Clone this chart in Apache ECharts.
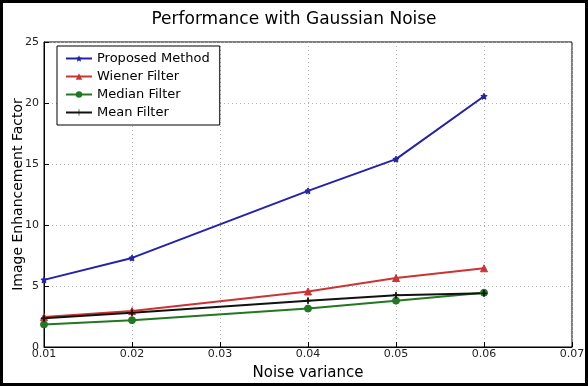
<!DOCTYPE html>
<html>
<head>
<meta charset="utf-8">
<script src="https://cdn.jsdelivr.net/npm/echarts@6/dist/echarts.min.js"></script>
<style>
  html, body { margin: 0; padding: 0; background: #fff; }
  #chart { width: 588px; height: 386px; }
</style>
</head>
<body>
<div id="chart"></div>
<script>
// noise variance values where points were measured
const noiseVariance = [0.01, 0.02, 0.04, 0.05, 0.06];
const proposed = [5.5, 7.3, 12.8, 15.4, 20.55];
const wiener = [2.45, 2.95, 4.55, 5.65, 6.45];
const median = [1.85, 2.2, 3.15, 3.8, 4.45];
const meanFilter = [2.35, 2.8, 3.8, 4.25, 4.4];

const pairs = (ys) => noiseVariance.map((x, i) => [x, ys[i]]);

const font = 'DejaVu Sans';
const chart = echarts.init(document.getElementById('chart'));

const axisCommon = {
  axisLine: { show: true, onZero: false, lineStyle: { color: '#000', width: 1 } },
  axisTick: { show: true, inside: true, length: 5, lineStyle: { color: '#000' } },
  splitLine: { show: true, lineStyle: { color: '#b0b0b0', type: [1, 3], width: 1 } },
  axisLabel: { color: '#222', fontFamily: font, fontSize: 11 }
};

const line = (name, data, color, symbol, size) => ({
  name, type: 'line', data: pairs(data),
  symbol, symbolSize: size,
  lineStyle: { color, width: 2 },
  itemStyle: { color, borderColor: color },
  emphasis: { disabled: true },
  animation: false
});

chart.setOption({
  backgroundColor: '#fff',
  title: {
    text: 'Performance with Gaussian Noise',
    left: 'center', top: 6,
    textStyle: { fontFamily: font, fontSize: 17, fontWeight: 'normal', color: '#000' }
  },
  grid: {
    left: 44, right: 16, top: 42, bottom: 39, outerBoundsMode: 'none', containLabel: false,
    show: true, borderColor: '#000', borderWidth: 1
  },
  xAxis: Object.assign({}, axisCommon, {
    type: 'value', min: 0.01, max: 0.07, interval: 0.01,
    name: 'Noise variance', nameLocation: 'middle', nameGap: 19, nameMoveOverlap: false,
    nameTextStyle: { fontFamily: font, fontSize: 15, color: '#000' },
    axisLabel: Object.assign({}, axisCommon.axisLabel, { margin: 2, formatter: v => v.toFixed(2) })
  }),
  yAxis: Object.assign({}, axisCommon, {
    type: 'value', min: 0, max: 25, interval: 5,
    name: 'Image Enhancement Factor', nameLocation: 'middle', nameGap: 19, nameMoveOverlap: false,
    nameTextStyle: { fontFamily: font, fontSize: 14, color: '#000' },
    axisLabel: Object.assign({}, axisCommon.axisLabel, { margin: 5 })
  }),
  legend: {
    orient: 'vertical', left: 57, top: 46,
    padding: [6, 10, 6, 8], itemGap: 5, itemWidth: 26, itemHeight: 8,
    borderColor: '#000', borderWidth: 1, backgroundColor: '#fff',
    textStyle: { fontFamily: font, fontSize: 13, color: '#000' },
    data: ['Proposed Method', 'Wiener Filter', 'Median Filter', 'Mean Filter']
  },
  graphic: [{
    type: 'rect', z: 100, silent: true,
    shape: { x: 1.5, y: 1.5, width: 585, height: 383 },
    style: { fill: 'none', stroke: '#000', lineWidth: 3 }
  }],
  series: [
    line('Proposed Method', proposed, '#2222aa', 'path://M0,-10L2.9,-4L9.5,-3.1L4.7,1.5L5.9,8.1L0,5L-5.9,8.1L-4.7,1.5L-9.5,-3.1L-2.9,-4Z', 6),
    line('Wiener Filter', wiener, '#cc3333', 'triangle', 7),
    line('Median Filter', median, '#227722', 'circle', 7),
    line('Mean Filter', meanFilter, '#111111', 'path://M-1,-10L1,-10L1,-1L10,-1L10,1L1,1L1,10L-1,10L-1,1L-10,1L-10,-1L-1,-1Z', 6)
  ]
});
</script>
</body>
</html>
